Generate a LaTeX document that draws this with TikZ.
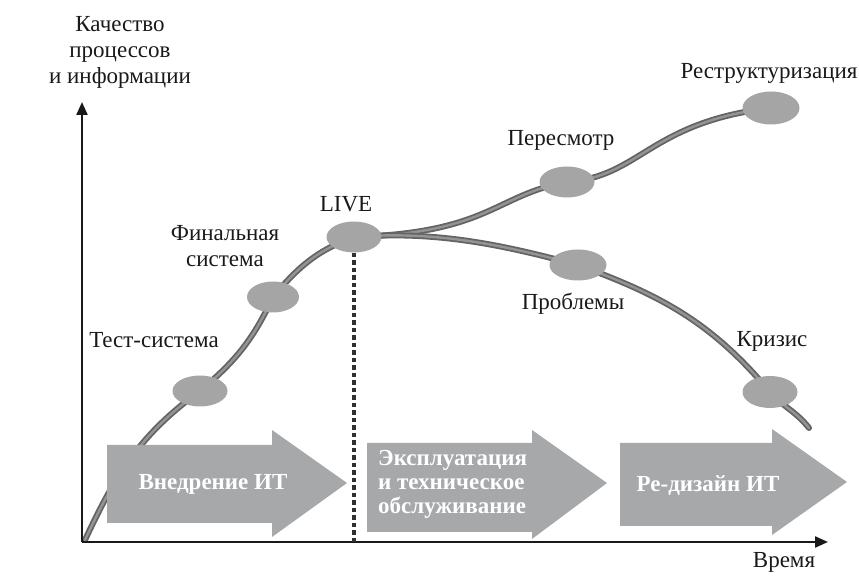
\documentclass[tikz,border=0pt]{standalone}
\usepackage{fontspec}
\setmainfont{Liberation Serif}
\usetikzlibrary{arrows.meta,shapes.geometric,backgrounds}
\definecolor{axisink}{RGB}{25,25,25}
\definecolor{tubedark}{RGB}{100,100,100}
\definecolor{tubelight}{RGB}{148,148,148}
\definecolor{stagegray}{RGB}{165,165,165}
\definecolor{phasegray}{RGB}{167,168,170}
\tikzset{
  >={Triangle[length=13pt,width=11pt]},
  axis/.style={->,line width=2.2pt,draw=axisink},
  lab/.style={font=\fontsize{23}{26}\selectfont,inner sep=0pt,align=center,text=axisink},
  stage/.style={ellipse,fill=stagegray,minimum width=55pt,minimum height=31pt,inner sep=0pt},
  tube/.style={line width=6pt,draw=tubedark,line cap=round,
    postaction={draw=tubelight,line width=2.4pt}},
  phase/.style={fill=phasegray},
  phase text/.style={font=\fontsize{23}{24}\selectfont\bfseries,text=white,
    inner sep=0pt,align=left},
  live line/.style={line width=3.2pt,draw=axisink!90,dash pattern=on 4.5pt off 3pt},
}

\begin{document}
\begin{tikzpicture}[x=1pt,y=1pt]
  \useasboundingbox (0,0) rectangle (859,577);
  % phases
  \foreach \xa/\xb/\xc/\bt/\bb/\ht/\hb/\ty in {107/272/347/132/54/147/40/94,
      367/532/607/134/45/147/38/94, 620/772/847/134/51/148/42/95}
    \fill[phase] (\xa,\bb) -- (\xa,\bt) -- (\xb,\bt) -- (\xb,\ht) -- (\xc,\ty)
      -- (\xb,\hb) -- (\xb,\bb) -- cycle;
  \node[phase text,anchor=base] (impl) at (213,87) {Внедрение ИТ};
  \node[phase text,anchor=west] (oper) at (378,93) {Эксплуатация\\и техническое\\обслуживание};
  \node[phase text,anchor=base] (redes) at (708,85) {Ре-дизайн ИТ};
  % axes
  \coordinate (o) at (82,35);
  \coordinate (xtip) at (828,35);
  \coordinate (ytip) at (82,475);
  \draw[axis] (o) -- (xtip);
  \draw[axis] (o) -- (ytip);
  \node[lab] (quality) at (120,525) {Качество\\процессов\\и информации};
  \node[lab,anchor=base] (time) at (784,9) {Время};
  % stages
  \node[stage] (test) at (200,186) {};
  \node[stage,minimum width=52pt] (final) at (273,280) {};
  \node[stage] (live) at (354,340) {};
  \node[stage] (review) at (567,395) {};
  \node[stage,minimum width=57pt,minimum height=33pt] (restruct) at (771,469) {};
  \node[stage,minimum width=57pt] (problems) at (578,312) {};
  \node[stage,minimum height=32pt] (crisis) at (770,185) {};
  \node[lab,anchor=base] (testlbl) at (154,229) {Тест-система};
  \node[lab] (finallbl) at (225,331) {Финальная\\система};
  \node[lab,anchor=base] (livelbl) at (346,365) {LIVE};
  \node[lab,anchor=base] (reviewlbl) at (561,431) {Пересмотр};
  \node[lab,anchor=base] (restructlbl) at (769,498) {Реструктуризация};
  \node[lab,anchor=base] (problemslbl) at (573,267) {Проблемы};
  \node[lab,anchor=base] (crisislbl) at (772,230) {Кризис};
  \draw[live line] (live.south) -- (live.south |- o);
  % curves
  \coordinate (start) at (85,37);
  \coordinate (tail) at (809,149);
  \begin{pgfonlayer}{background}
    \draw[tube] (start) to[out=65,in=216] (test.center) to[out=40,in=245] (final.center)
      to[out=50,in=200] (live.center) .. controls (490,344) and (495,382) .. (review.center)
      .. controls (640,400) and (650,455) .. (restruct.center);
    \draw[tube] (live.center) .. controls (440,347) and (510,330) .. (problems.center)
      to[out=-20,in=130] (crisis.center) to[out=-48,in=128] (tail);
  \end{pgfonlayer}
\end{tikzpicture}
\end{document}
